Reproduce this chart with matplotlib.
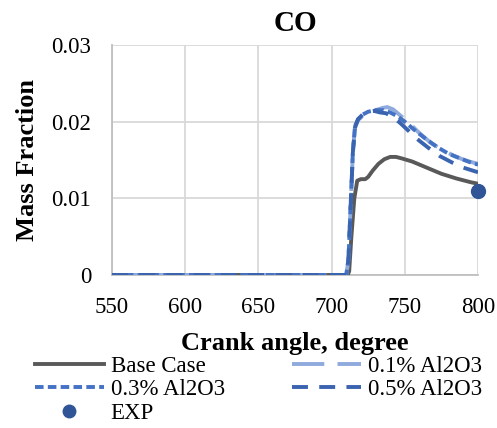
import matplotlib
matplotlib.use("Agg")
import matplotlib.pyplot as plt

plt.rcParams['font.family'] = ['Liberation Serif', 'DejaVu Serif']

# Data
base_x = [550, 711, 712, 713.5, 715.5, 717.5, 720, 723, 725, 728, 732, 736, 740, 744, 748, 755, 765, 775, 785, 795, 800]
base_y = [0, 0, 0.0005, 0.005, 0.010, 0.0123, 0.0125, 0.0125, 0.0128, 0.0136, 0.0145, 0.0151, 0.0154, 0.0154, 0.0152, 0.0148, 0.0140, 0.0132, 0.0126, 0.0121, 0.0119]

a01_x = [550, 710, 711.5, 713, 714.5, 716, 718, 721, 725, 730, 735, 738, 742, 747, 752, 760, 768, 776, 784, 792, 800]
a01_y = [0, 0, 0.002, 0.009, 0.016, 0.0195, 0.0202, 0.0207, 0.0212, 0.0215, 0.0218, 0.0219, 0.0216, 0.0208, 0.0200, 0.0185, 0.0172, 0.0163, 0.0155, 0.0149, 0.0145]

a03_x = [550, 710, 711.5, 713, 714.5, 716, 718, 721, 725, 730, 735, 740, 745, 750, 756, 764, 772, 780, 788, 796, 800]
a03_y = [0, 0, 0.002, 0.009, 0.016, 0.0193, 0.0203, 0.0209, 0.0213, 0.0215, 0.0215, 0.0212, 0.0207, 0.0200, 0.0190, 0.0178, 0.0167, 0.0158, 0.0152, 0.0146, 0.0144]

a05_x = [550, 710, 711.5, 713, 714.5, 716, 718, 721, 725, 729, 733, 737, 742, 747, 752, 758, 766, 774, 782, 790, 800]
a05_y = [0, 0, 0.002, 0.009, 0.016, 0.0192, 0.0203, 0.0209, 0.0213, 0.0214, 0.0212, 0.0211, 0.0206, 0.0198, 0.0189, 0.0178, 0.0166, 0.0155, 0.0147, 0.0140, 0.0134]

exp_x = [800]
exp_y = [0.0110]

x_ticks = [550, 600, 650, 700, 750, 800]
y_ticks = [0, 0.01, 0.02, 0.03]
y_tick_labels = ['0', '0.01', '0.02', '0.03']

fig = plt.figure(figsize=(4.97, 4.28), dpi=100)
ax = fig.add_axes([0.2254, 0.3575, 0.7364, 0.5374])

lw = 2.8
h_base, = ax.plot(base_x, base_y, color='#595959', lw=lw, label='Base Case', zorder=3)
h01, = ax.plot(a01_x, a01_y, color='#8FAADC', lw=lw, dashes=(8.3, 3.4), label='0.1% Al2O3', zorder=4)
h03, = ax.plot(a03_x, a03_y, color='#4472C4', lw=lw, dashes=(2.2, 1.1), label='0.3% Al2O3', zorder=5)
h05, = ax.plot(a05_x, a05_y, color='#3A63B0', lw=lw, dashes=(4.1, 2.9), label='0.5% Al2O3', zorder=6)
h_exp, = ax.plot(exp_x, exp_y, 'o', color='#2F5597', ms=10, label='EXP', zorder=7, clip_on=False)

ax.set_xlim(550, 800)
ax.set_ylim(0, 0.03)
ax.set_xticks(x_ticks)
ax.set_yticks(y_ticks)
ax.set_yticklabels(y_tick_labels)
ax.grid(True, color='#D9D9D9', lw=1.3)
ax.set_axisbelow(True)
for s in ['top', 'right']:
    ax.spines[s].set_visible(False)
for s in ['left', 'bottom']:
    ax.spines[s].set_color('#BFBFBF')
    ax.spines[s].set_linewidth(1.3)
ax.tick_params(axis='x', length=0, labelsize=16.5, pad=16)
ax.tick_params(axis='y', length=0, labelsize=16.5, pad=15)

ax.set_title('CO', fontsize=21, fontweight='bold', pad=10)
ax.set_xlabel('Crank angle, degree', fontsize=19, fontweight='bold', labelpad=10)
ax.set_ylabel('Mass Fraction', fontsize=19, fontweight='bold', labelpad=9)

handles = [h_base, h03, h_exp, h01, h05]
labels = [h.get_label() for h in handles]
leg = fig.legend(handles, labels,
                 loc='upper left', bbox_to_anchor=(0.0704, 0.168), ncol=2,
                 frameon=False, fontsize=16.5, handlelength=3.0, handletextpad=0.3,
                 columnspacing=2.95, labelspacing=0.1, borderaxespad=0, borderpad=0,
                 markerscale=0.9)

fig.savefig('out.png', dpi=100)
